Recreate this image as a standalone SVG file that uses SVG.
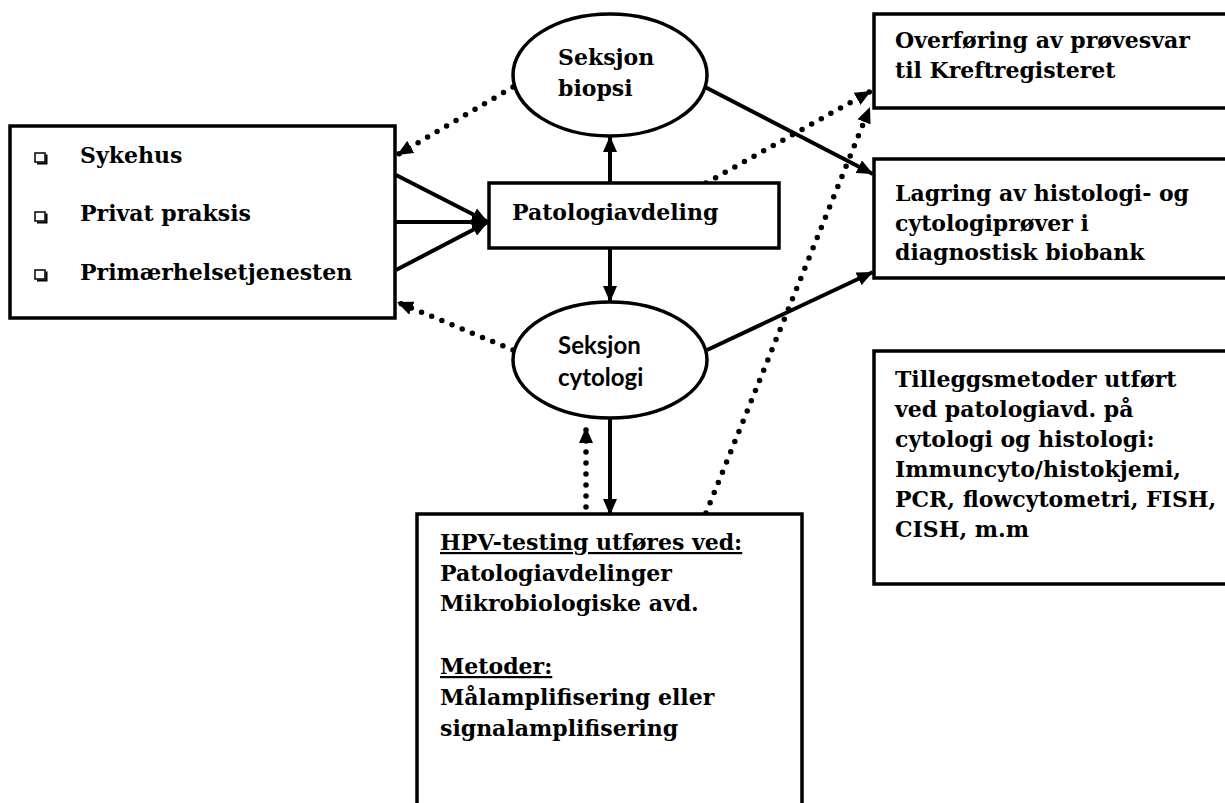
<svg xmlns="http://www.w3.org/2000/svg" width="1225" height="803" viewBox="0 0 1225 803">
<style>
.box{fill:#fff;stroke:#000;stroke-width:3.5}
.t{font-family:"DejaVu Serif","Liberation Serif",serif;font-weight:bold;font-size:22px;fill:#000}
.s{font-family:Lato,"Liberation Sans",sans-serif;font-weight:bold;font-size:24px;fill:#000}
.solid{fill:none;stroke:#000;stroke-width:4}
.dot{fill:none;stroke:#000;stroke-width:5.5;stroke-linecap:round;stroke-dasharray:0 11}
.u{text-decoration:underline}
</style>
<defs>
<marker id="ah" viewBox="0 0 16 14" refX="16" refY="7" markerWidth="16" markerHeight="14" markerUnits="userSpaceOnUse" orient="auto">
<path d="M0,0 L16,7 L0,14 z" fill="#000"/>
</marker>
<g id="bul">
<rect x="0" y="0" width="10" height="9" fill="#fff" stroke="#000" stroke-width="1.5"/>
<path d="M2,10.5 H11.5 V1.5" fill="none" stroke="#000" stroke-width="2"/>
</g>
</defs>
<rect width="1225" height="803" fill="#fff"/>

<g id="connectors">
<path class="dot" d="M513,87 L397,155" marker-end="url(#ah)"/>
<path class="dot" d="M513,350 L397,302" marker-end="url(#ah)"/>
<path class="solid" d="M396,175 L488,222" marker-end="url(#ah)"/>
<path class="solid" d="M396,222 L488,222" marker-end="url(#ah)"/>
<path class="solid" d="M396,270 L488,222" marker-end="url(#ah)"/>
<path class="solid" d="M610,183 L610,136" marker-end="url(#ah)"/>
<path class="solid" d="M610,248 L610,302" marker-end="url(#ah)"/>
<path class="solid" d="M705,87 L873,174" marker-end="url(#ah)"/>
<path class="solid" d="M707,350 L873,272" marker-end="url(#ah)"/>
<path class="dot" d="M706,183 L871,91" marker-end="url(#ah)"/>
<path class="dot" d="M706,513 L870,107" marker-end="url(#ah)"/>
<path class="dot" d="M586,518 L586,427" marker-end="url(#ah)"/>
<path class="solid" d="M610,419 L610,515" marker-end="url(#ah)"/>
</g>

<g id="sources">
<rect class="box" x="10" y="126" width="385" height="192"/>
<use href="#bul" x="35" y="153"/>
<use href="#bul" x="35" y="212"/>
<use href="#bul" x="35" y="270"/>
<text class="t" x="80" y="163">Sykehus</text>
<text class="t" x="80" y="221">Privat praksis</text>
<text class="t" x="80" y="280">Primærhelsetjenesten</text>
</g>

<g id="patologi">
<rect class="box" x="489" y="183" width="290" height="65"/>
<text class="t" x="512" y="220">Patologiavdeling</text>
</g>

<g id="biopsi">
<ellipse class="box" cx="610" cy="75" rx="97" ry="61"/>
<text class="t" x="558" y="65">Seksjon</text>
<text class="t" x="558" y="96">biopsi</text>
</g>

<g id="cytologi">
<ellipse class="box" cx="610" cy="360" rx="97" ry="58"/>
<text class="s" x="558" y="354">Seksjon</text>
<text class="s" x="558" y="386">cytologi</text>
</g>

<g id="overforing">
<rect class="box" x="874" y="14" width="360" height="94"/>
<text class="t" x="895" y="48">Overføring av prøvesvar</text>
<text class="t" x="895" y="78">til Kreftregisteret</text>
</g>

<g id="lagring">
<rect class="box" x="874" y="159" width="360" height="119"/>
<text class="t" x="895" y="201">Lagring av histologi- og</text>
<text class="t" x="895" y="231">cytologiprøver i</text>
<text class="t" x="895" y="260">diagnostisk biobank</text>
</g>

<g id="tillegg">
<rect class="box" x="874" y="351" width="360" height="233"/>
<text class="t" x="895" y="387">Tilleggsmetoder utført</text>
<text class="t" x="895" y="417">ved patologiavd. på</text>
<text class="t" x="895" y="447">cytologi og histologi:</text>
<text class="t" x="895" y="477">Immuncyto/histokjemi,</text>
<text class="t" x="895" y="507">PCR, flowcytometri, FISH,</text>
<text class="t" x="895" y="537">CISH, m.m</text>
</g>

<g id="hpv">
<rect class="box" x="417" y="514" width="385" height="300"/>
<text class="t u" x="440" y="550">HPV-testing utføres ved:</text>
<text class="t" x="440" y="581">Patologiavdelinger</text>
<text class="t" x="440" y="611">Mikrobiologiske avd.</text>
<text class="t u" x="440" y="674">Metoder:</text>
<text class="t" x="440" y="705">Målamplifisering eller</text>
<text class="t" x="440" y="736">signalamplifisering</text>
</g>
</svg>
